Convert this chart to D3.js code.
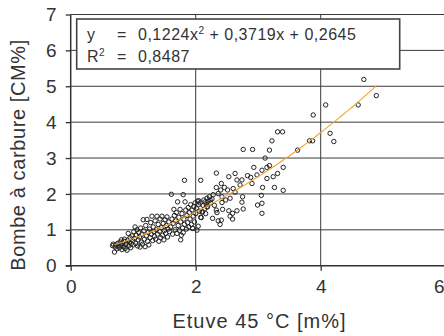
<!DOCTYPE html>
<html>
<head>
<meta charset="utf-8">
<script src="https://cdn.jsdelivr.net/npm/d3@7"></script>
<style>
  html, body { margin: 0; padding: 0; background: #fff; }
  svg text { font-family: "Liberation Sans", Arial, sans-serif; fill: #333; }
</style>
</head>
<body>
<div id="chart"></div>
<script>
// tick values
const xTicks = [0, 2, 4, 6];
const yTicks = [0, 1, 2, 3, 4, 5, 6, 7];

// fit coefficients shown in the legend (a x^2 + b x + c)
const fitCoef = [0.1224, 0.3719, 0.2645];
const fitRange = [0.7, 4.9];
const fitLabel = ['0,1224x', '2', ' + 0,3719x + 0,2645'];
const r2Label = '0,8487';

const lowCluster = [
  [0.67,0.56],[0.68,0.60],[0.70,0.38],[0.71,0.52],[0.72,0.58],[0.74,0.47],[0.75,0.62],[0.76,0.55],
  [0.78,0.50],[0.79,0.66],[0.80,0.58],[0.81,0.72],[0.82,0.45],[0.83,0.62],[0.84,0.53],[0.85,0.68],
  [0.86,0.74],[0.87,0.48],[0.88,0.58],[0.89,0.63],[0.90,0.43],[0.91,0.71],[0.92,0.90],[0.93,0.55],
  [0.94,0.66],[0.95,0.78],[0.96,0.50],[0.97,0.62],[0.98,0.83],[0.99,0.70],[1.00,0.58],
  [1.01,0.95],[1.02,0.76],[1.03,1.08],[1.04,0.62],[1.05,0.85],[1.06,1.00],[1.07,0.55],[1.08,0.72],
  [1.09,0.92],[1.10,0.80],[1.11,0.52],[1.12,1.05],[1.13,0.66],[1.14,0.88],[1.15,0.60],[1.16,1.28],
  [1.17,0.97],[1.18,0.74],[1.19,0.53],[1.20,1.12],[1.21,0.83],[1.22,1.29],[1.23,0.68],[1.24,0.93],
  [1.25,0.58],[1.26,1.02],[1.27,0.78],[1.28,1.20],[1.29,0.88],[1.30,1.38],[1.31,0.70],[1.32,1.08],
  [1.33,0.95],[1.34,0.82],[1.35,1.25],[1.36,0.74],[1.37,1.00],[1.38,1.38],[1.39,0.88],[1.40,1.15],
  [1.41,0.68],[1.42,0.96],[1.43,1.30],[1.44,0.78],[1.45,1.06],[1.46,1.38],[1.47,0.85],[1.48,1.18],
  [1.49,0.72],[1.50,0.98]
];
const midCluster = [
  [1.51,1.28],[1.52,0.90],[1.53,1.12],[1.54,1.36],[1.55,0.80],[1.56,1.02],[1.57,1.22],[1.58,0.95],
  [1.60,1.08],[1.61,1.99],[1.62,1.30],[1.63,0.88],[1.64,1.18],[1.65,1.57],[1.66,1.40],[1.67,1.00],
  [1.68,1.25],[1.69,1.48],[1.70,0.90],[1.71,1.78],[1.72,1.12],[1.73,1.35],[1.74,0.98],[1.75,1.57],
  [1.76,0.72],[1.76,1.22],[1.77,0.85],[1.78,1.45],[1.79,1.05],[1.80,1.98],[1.80,0.92],[1.81,1.30],
  [1.82,1.15],[1.83,1.78],[1.84,1.55],[1.85,1.02],[1.86,1.40],[1.87,1.20],[1.88,1.62],[1.89,1.08],
  [1.90,1.48],[1.91,1.30],[1.92,1.70],[1.93,1.15],[1.94,1.55],[1.95,1.04],[1.96,1.38],[1.97,1.65],
  [1.98,1.22],[1.99,1.75],[2.00,1.45],[2.01,1.60],[2.02,0.99],[2.03,1.80],[2.04,1.10],[2.05,1.70],
  [1.82,2.38],[2.08,2.38],[1.95,1.04],[2.09,1.34],[2.10,1.50],[2.05,1.81],[2.13,1.83],[2.18,1.64],
  [2.23,1.83]
];
const upperCluster = [
  [2.06,1.52],[2.07,1.75],[2.08,1.35],[2.11,1.50],[2.12,1.68],[2.14,1.58],[2.15,1.78],[2.16,1.45],
  [2.17,1.70],[2.18,1.88],[2.19,1.64],[2.20,1.80],[2.22,1.92],[2.24,1.75],[2.26,1.86],[2.27,1.32],
  [2.28,1.98],[2.30,1.68],[2.33,2.58],[2.33,2.18],[2.33,1.55],[2.34,1.48],[2.36,2.01],[2.36,1.25],
  [2.39,1.15],[2.40,2.11],[2.41,2.29],[2.41,1.27],[2.42,1.92],[2.42,1.76],[2.43,1.57],[2.46,2.18],
  [2.48,1.83],[2.51,2.11],[2.53,2.48],[2.53,1.53],[2.55,1.88],[2.55,1.38],[2.59,1.46],[2.59,1.30],
  [2.60,2.15],[2.63,2.57],[2.63,2.05],[2.66,2.39],[2.66,1.53],[2.71,2.25],[2.74,2.39],[2.74,1.77],
  [2.75,1.92],[2.76,1.58],[2.76,3.24],[2.83,2.51],[2.88,2.46],[2.90,2.29],[2.91,3.24],[2.93,2.74],
  [2.98,2.53],[2.99,1.69],[3.05,1.96],[3.06,2.66],[3.06,1.74],[3.06,1.46],[3.07,2.18],[3.11,3.00],
  [3.14,2.74],[3.14,2.43],[3.18,2.79],[3.18,3.22],[3.22,3.48],[3.24,2.48],[3.26,2.18],[3.31,2.57],
  [3.31,3.73],[3.39,3.73],[3.40,2.74],[3.40,2.10]
];
const highPoints = [
  [3.63,3.22],[3.82,3.48],[3.87,3.48],[3.88,4.20],[4.08,4.48],[4.15,3.69],[4.21,3.46],
  [4.60,4.48],[4.69,5.19],[4.89,4.74]
];

const W = 444, H = 336;
const x = d3.scaleLinear().domain([0, 6]).range([70.7, 445.7]);
const y = d3.scaleLinear().domain([0, 7]).range([265.7, 14.5]);

const svg = d3.select('#chart').append('svg')
  .attr('width', W).attr('height', H);

// grid
svg.append('g').attr('class', 'hgrid')
  .selectAll('line').data(yTicks.filter(d => d > 0))
  .join('line')
  .attr('x1', x(0)).attr('x2', W)
  .attr('y1', d => y(d)).attr('y2', d => y(d))
  .attr('stroke', '#3a3a3a').attr('stroke-width', 1);

svg.append('g').attr('class', 'vgrid')
  .selectAll('line').data(xTicks.filter(d => d > 0))
  .join('line')
  .attr('x1', d => x(d)).attr('x2', d => x(d))
  .attr('y1', y(7)).attr('y2', y(0))
  .attr('stroke', '#3a3a3a').attr('stroke-width', 1);

// axes
const yAxis = svg.append('g')
  .attr('transform', `translate(${x(0)},0)`)
  .call(d3.axisLeft(y).tickValues(yTicks).tickSize(5).tickPadding(9).tickFormat(d3.format('d')));
const xAxis = svg.append('g')
  .attr('transform', `translate(0,${y(0)})`)
  .call(d3.axisBottom(x).tickValues(xTicks).tickSize(5).tickPadding(9).tickFormat(d3.format('d')));

[yAxis, xAxis].forEach(g => {
  g.select('.domain').remove();
  g.selectAll('line').attr('stroke', '#333').attr('stroke-width', 1.3);
  g.selectAll('text').attr('font-size', 19).attr('fill', '#333')
    .style('font-family', '"Liberation Sans", Arial, sans-serif');
});
// last x label sits at the right edge, keep it inside the page
xAxis.selectAll('.tick').filter(d => d === 6).select('text')
  .attr('text-anchor', 'end').attr('x', W - x(6));
yAxis.append('line').attr('x1', 0).attr('x2', 0).attr('y1', y(7)).attr('y2', y(0) + 0.5)
  .attr('stroke', '#333').attr('stroke-width', 1.5);
xAxis.append('line').attr('x1', x(0) - 5).attr('x2', W).attr('y1', 0).attr('y2', 0)
  .attr('stroke', '#333').attr('stroke-width', 1.5);

// points
const allPoints = [].concat(lowCluster, midCluster, upperCluster, highPoints);
svg.append('g').attr('class', 'points')
  .selectAll('circle').data(allPoints)
  .join('circle')
  .attr('cx', d => x(d[0])).attr('cy', d => y(d[1]))
  .attr('r', 2.2)
  .attr('fill', 'none').attr('stroke', '#222').attr('stroke-width', 1);

// fitted curve
const fit = v => fitCoef[0] * v * v + fitCoef[1] * v + fitCoef[2];
const fitPts = d3.range(fitRange[0], fitRange[1] + 0.001, 0.05);
svg.append('path')
  .datum(fitPts)
  .attr('d', d3.line().x(d => x(d)).y(d => y(fit(d))))
  .attr('fill', 'none').attr('stroke', '#f2a22e').attr('stroke-width', 1.1);

// legend box
const lg = svg.append('g').attr('class', 'legend');
lg.append('rect')
  .attr('x', 76.7).attr('y', 19).attr('width', 323).attr('height', 50)
  .attr('fill', '#fff').attr('stroke', '#444').attr('stroke-width', 1.6);
const l1 = lg.append('text').attr('y', 40).attr('font-size', 16).attr('letter-spacing', 0.5);
l1.append('tspan').attr('x', 87).text('y');
l1.append('tspan').attr('x', 117).text('=');
const eq = l1.append('tspan').attr('x', 138);
eq.text(fitLabel[0]);
l1.append('tspan').attr('dy', -6).attr('font-size', 10).text(fitLabel[1]);
l1.append('tspan').attr('dy', 6).text(fitLabel[2]);

const l2 = lg.append('text').attr('y', 62).attr('font-size', 16).attr('letter-spacing', 0.5);
l2.append('tspan').attr('x', 87).text('R');
l2.append('tspan').attr('dy', -6).attr('font-size', 10).text('2');
l2.append('tspan').attr('dy', 6).attr('x', 117).text('=');
l2.append('tspan').attr('x', 138).text(r2Label);

// axis titles
svg.append('text')
  .attr('x', 259.5).attr('y', 328)
  .attr('text-anchor', 'middle').attr('font-size', 20).attr('letter-spacing', 1)
  .text('Etuve 45 °C [m%]');
svg.append('text')
  .attr('transform', 'translate(25,155) rotate(-90)')
  .attr('text-anchor', 'middle').attr('font-size', 20).attr('letter-spacing', 0.6)
  .text('Bombe à carbure [CM%]');
</script>
</body>
</html>
